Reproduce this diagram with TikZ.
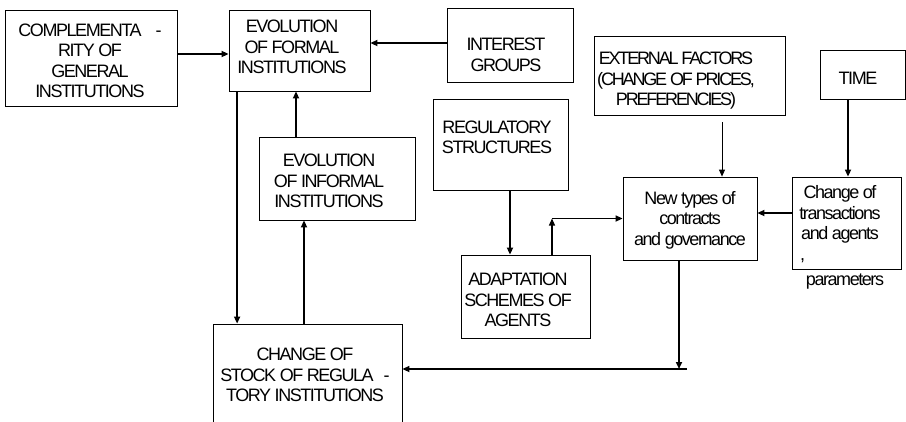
\documentclass[tikz,border=0pt]{standalone}
\usepackage{fontspec}
\setmainfont{Liberation Sans}[LetterSpace=-8]
\usetikzlibrary{arrows.meta}
\begin{document}
\begin{tikzpicture}[x=1pt, y=-1pt,
  box/.style = {draw, line width=0.8pt, inner sep=0},
  txt/.style = {align=center, inner sep=0, font=\fontsize{18}{20.5}\selectfont},
  arr/.style = {line width=1.6pt, -{Triangle[length=7pt,width=6pt]}},
  thinarr/.style = {line width=0.8pt, -{Triangle[length=7pt,width=6pt]}}]
\useasboundingbox (0,0) rectangle (906,421);
\clip (0,0) rectangle (906,421);

\node[box, minimum width=172, minimum height=96] (compl) at (91,58) {};
\node[box, minimum width=141, minimum height=81] (formal) at (299.5,50.5) {};
\node[box, minimum width=126, minimum height=74] (interest) at (510,45) {};
\node[box, minimum width=135, minimum height=91] (regul) at (500.5,144.5) {};
\node[box, minimum width=156, minimum height=83] (informal) at (337,178.5) {};
\node[box, minimum width=191, minimum height=79] (external) at (689.5,75.5) {};
\node[box, minimum width=85, minimum height=49] (time) at (862.5,74.5) {};
\node[box, minimum width=134, minimum height=83] (newtypes) at (690,218.5) {};
\node[box, minimum width=109, minimum height=92] (change) at (846.5,223) {};
\node[box, minimum width=129, minimum height=83] (adapt) at (525.5,296.5) {};
\node[box, minimum width=189, minimum height=102] (stock) at (307.5,375) {};

\node[txt] (compl-t) at (90,61) {COMPLEMENTA\hspace{14pt}-\\RITY OF\\GENERAL\\INSTITUTIONS};
\node[txt] (formal-t) at (292,47) {EVOLUTION\\OF FORMAL\\INSTITUTIONS};
\node[txt] (interest-t) at (506,55) {INTEREST\\GROUPS};
\node[txt] (regul-t) at (497,137.5) {REGULATORY\\STRUCTURES};
\node[txt] (informal-t) at (329,181) {EVOLUTION\\OF INFORMAL\\INSTITUTIONS};
\node[txt, font=\fontsize{18}{20.5}\selectfont\addfontfeature{LetterSpace=-12}] (external-t) at (676,81) {EXTERNAL FACTORS\\(CHANGE OF PRICES,\\PREFERENCIES)};
\node[txt] (time-t) at (858,78) {TIME};
\node[txt] (newtypes-t) at (690,220) {New types of\\contracts\\and governance};
\node[txt] (change-t) at (840,224) {Change of\\transactions\\and agents\\\makebox[80pt][l]{,}};
\node[txt] (param-t) at (845,282) {parameters};
\node[txt] (stock-t) at (305,375) {CHANGE OF\\STOCK OF REGULA\hspace{10pt}-\\TORY INSTITUTIONS};
\node[txt] (adapt-t) at (518,300) {ADAPTATION\\SCHEMES OF\\AGENTS};

\coordinate (corner) at ([xshift=26.5]adapt.north |- newtypes.west);
\coordinate (hjoin) at (679,369);
\coordinate (hend) at (687,369);

\draw[arr] ([yshift=4]compl.east) -- ([yshift=4]compl.east -| formal.west);
\draw[arr] ([yshift=2]interest.west) -- ([yshift=2]interest.west -| formal.east);
\draw[arr] ([xshift=-41]informal.north) -- ([xshift=-41]informal.north |- formal.south);
\draw[arr] ([xshift=8.5]formal.south west) -- ([xshift=8.5]formal.south west |- stock.north);
\draw[arr] ([xshift=-3.5]stock.north) -- ([xshift=-3.5]stock.north |- informal.south);
\draw[arr] ([xshift=9.5]regul.south) -- ([xshift=9.5]regul.south |- adapt.north);
\draw[thinarr, line width=1.2pt] ([xshift=26.5]adapt.north) -- (corner);
\draw[arr] (corner) -- (newtypes.west);
\draw[thinarr] ([xshift=32.5,yshift=-7]external.south) -- ([xshift=32.5]external.south |- newtypes.north);
\draw[arr] ([xshift=-14.5]time.south) -- ([xshift=-14.5]time.south |- change.north);
\draw[arr] ([yshift=10]change.west) -- ([yshift=10]change.west -| newtypes.east);
\draw[arr] ([xshift=-11]newtypes.south) -- (hjoin);
\draw[arr] (hend) -- (hend -| stock.east);

\end{tikzpicture}
\end{document}
